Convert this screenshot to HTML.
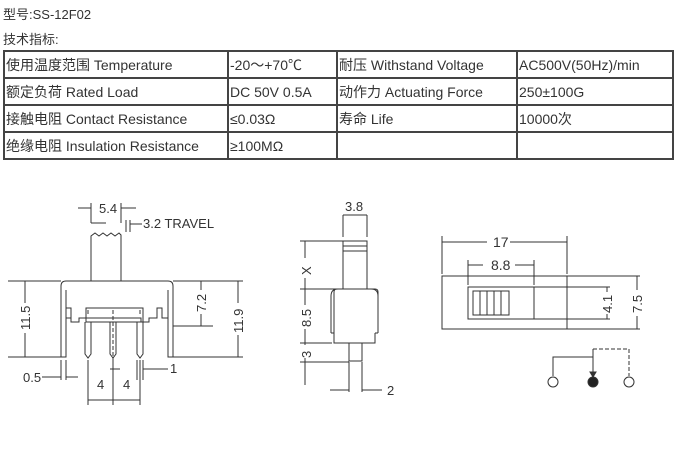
<!DOCTYPE html>
<html><head><meta charset="utf-8"><style>
body{margin:0;width:700px;height:452px;background:#fff;overflow:hidden;font-family:"Liberation Sans","Noto Sans CJK SC",sans-serif;color:#333;}
.t{position:absolute;font-size:13px;}
table{position:absolute;left:3px;top:50px;border-collapse:collapse;font-size:14px;}
td{border:2px solid #444;height:25px;padding:0 1px;white-space:nowrap;vertical-align:middle;line-height:16px;}
</style></head><body>
<div class="t" style="left:3px;top:4px;">型号:SS-12F02</div>
<div class="t" style="left:3px;top:29px;">技术指标:</div>
<table>
<tr><td style="width:220px">使用温度范围 Temperature</td><td style="width:105px">-20～+70℃</td><td style="width:176px">耐压 Withstand Voltage</td><td style="width:152px">AC500V(50Hz)/min</td></tr>
<tr><td>额定负荷 Rated Load</td><td>DC 50V 0.5A</td><td>动作力 Actuating Force</td><td>250±100G</td></tr>
<tr><td>接触电阻 Contact Resistance</td><td>≤0.03Ω</td><td>寿命 Life</td><td>10000次</td></tr>
<tr><td>绝缘电阻 Insulation Resistance</td><td>≥100MΩ</td><td></td><td></td></tr>
</table>
<svg width="700" height="452" style="position:absolute;left:0;top:0" stroke="#333" fill="none" stroke-width="1" font-family="Liberation Sans,sans-serif" font-size="13">
<!-- left view -->
<path d="M91 281V236 l4 -3 4 3 4 -3 4 3 4 -3 4 3 4 -3 2 2V281"/>
<path d="M61 357V286q0-5 5-5h102q5 0 5 5v71h-5V318h-6v-10h-5v10h-8v4h-8v-4H79v4h-8v-4H66v-10H71v10h-5V357z"/>
<path d="M66 318V290M168 318V290M86 322h57v-14H86z"/>
<path d="M85 322v32l3 4 3-4v-32M110 322v32l3 4 3-4v-32M137 322v32l3 4 3-4v-32"/>
<path d="M113 310v50M88 310v5M140 310v5" stroke-dasharray="4 2"/>
<path d="M78 208h13M121 208h15M91 203v20M121 203v20M91 223h15M126 220v12M130 220v12M130 224h12"/>
<text x="99" y="213" stroke="none" fill="#333">5.4</text>
<text x="143" y="228" stroke="none" fill="#333" font-size="13">3.2 TRAVEL</text>
<path d="M8 281h53M25 281v76M8 357h53M173 281h40M201 281v45M173 326h40M173 357h70M238 281v76M173 281h70"/>
<rect x="19" y="303" width="12" height="30" fill="#fff" stroke="none"/>
<rect x="195" y="290" width="12" height="24" fill="#fff" stroke="none"/>
<rect x="232" y="303" width="12" height="32" fill="#fff" stroke="none"/>
<text transform="translate(30,330) rotate(-90)" stroke="none" fill="#333">11.5</text>
<text transform="translate(206,312) rotate(-90)" stroke="none" fill="#333">7.2</text>
<text transform="translate(243,333) rotate(-90)" stroke="none" fill="#333">11.9</text>
<path d="M61 360v20M66 360v20M42 377h19M66 377h12M88 360v45M113 360v45M140 360v45M137 360v20M143 360v20M88 400h52M120 369h-10M143 369h25"/>
<text x="23" y="382" stroke="none" fill="#333">0.5</text>
<text x="97" y="389" stroke="none" fill="#333">4</text>
<text x="123" y="389" stroke="none" fill="#333">4</text>
<text x="170" y="373" stroke="none" fill="#333">1</text>
<!-- middle view -->
<path d="M343 289V241h24v48M343 246h24M343 251h24"/>
<path d="M334 333V292q0-3 3-3h38q3 0 3 3v41M331 333V296q0-7 7-7M378 333V296q0-7-7-7M331 333h3M375 333h3M334 333v10h41v-10M349 343v18h13v-18"/>
<path d="M343 215v22M367 215v22M343 215h24M300 241h43M300 289h45M300 343h32M300 362h49M305 241v144M349 362v30M362 362v30M330 390h19M362 390h20"/>
<text x="345" y="211" stroke="none" fill="#333">3.8</text>
<rect x="300" y="258" width="10" height="20" fill="#fff" stroke="none"/>
<rect x="300" y="305" width="10" height="24" fill="#fff" stroke="none"/>
<rect x="300" y="345" width="10" height="13" fill="#fff" stroke="none"/>
<text transform="translate(311,275) rotate(-90)" stroke="none" fill="#333">X</text>
<text transform="translate(311,327) rotate(-90)" stroke="none" fill="#333">8.5</text>
<text transform="translate(311,358) rotate(-90)" stroke="none" fill="#333">3</text>
<text x="387" y="395" stroke="none" fill="#333">2</text>
<!-- right view -->
<rect x="442" y="276" width="125" height="53"/>
<rect x="468" y="287" width="66" height="32"/>
<rect x="473" y="291" width="36" height="24"/>
<path d="M480 291v24M487 291v24M494 291v24M501 291v24"/>
<path d="M442 236v38M567 236v38M442 242h45M510 242h57M468 260v25M534 260v25M468 265h15M515 265h19M534 287h76M534 319h76M607 287v32M567 276h73M567 329h73M637 276v53"/>
<text x="493" y="247" stroke="none" fill="#333" font-size="14">17</text>
<text x="491" y="270" stroke="none" fill="#333" font-size="14">8.8</text>
<rect x="598" y="292" width="18" height="22" fill="#fff" stroke="none"/>
<rect x="630" y="290" width="14" height="26" fill="#fff" stroke="none"/>
<text transform="translate(612,313) rotate(-90)" stroke="none" fill="#333">4.1</text>
<text transform="translate(642,313) rotate(-90)" stroke="none" fill="#333">7.5</text>
<!-- schematic -->
<path d="M553 376v-19h40M593 349v27"/>
<path d="M593 349h36v27" stroke-dasharray="4 2"/>
<path d="M590 372l3 5 3-5z" fill="#333"/>
<circle cx="553" cy="382" r="5"/><circle cx="593" cy="382" r="5" fill="#222"/><circle cx="629" cy="382" r="5"/>
</svg>
</body></html>
